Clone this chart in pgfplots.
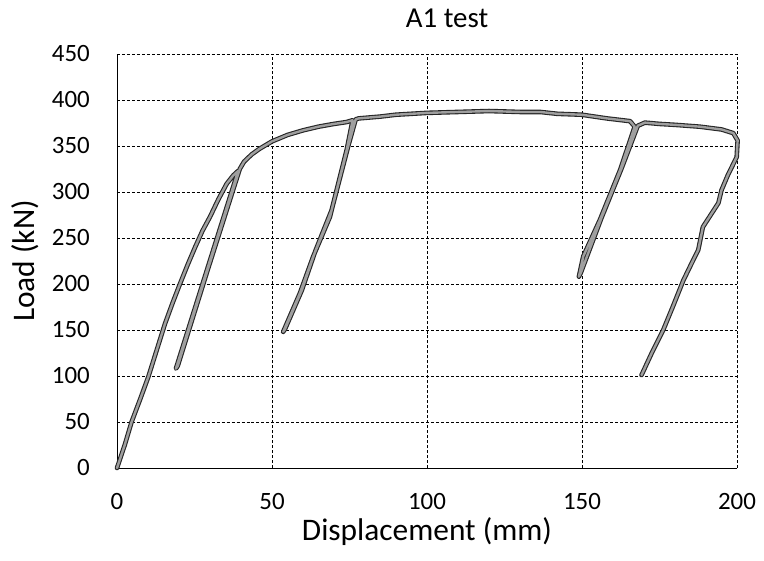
\documentclass[border=0pt]{standalone}
\usepackage{fontspec}
\setmainfont{Carlito}
\usepackage{pgfplots}
\pgfplotsset{compat=1.18}
\usepackage{pgfplotstable}

% load-displacement trace, A1 test
\pgfplotstableread{
x y
0 0
2.5 25
4.7 50
7.5 75
10.1 99
12.8 128
15.5 157
18 180
20.3 200
22.8 221
25.2 240
27.6 258
30 273
32.7 292
35.4 309
37.5 318
39.1 323
29 215
19 108
19.6 111
29.5 218
39.6 325
41 333
43.5 341
46 347
50 355
55 362
60 367
65 371
70 374
74 376
76 378
74.1 346
68.7 273
63.3 230
59 190
53.6 148
54.2 151
59.6 193
64 236
69.2 280
74.6 350
77 379
78 380
85 382
90 384
100 386
110 387
120 388
130 387
136.5 387
142 385
149.9 384
158 380
165.5 377
167 371
162.3 324
155.8 270
150.4 230
149 208
149.6 212
156.3 272
162.8 326
168 372
170.3 375.4
175 374
180 373
188 371
195 368
198.8 364
200.2 356
199.9 338
197 318
195 302
194 288
191.5 275
189 262
187.5 237
185 220
182.7 204
179.5 177
176.2 150
172.5 125
169.2 101
}\loadtable

\begin{document}
\begin{tikzpicture}
\begin{axis}[
    scale only axis,
    width=620bp, height=414bp,
    xmin=0, xmax=200, ymin=0, ymax=450,
    xtick={0,50,...,200},
    ytick={0,50,...,450},
    axis lines=left,
    axis line style={-, black, line width=0.8pt},
    major tick length=0pt,
    grid=major,
    major grid style={black, line width=0.6pt, dash pattern=on 3pt off 2pt},
    clip=false,
    /pgf/number format/assume math mode=true,
    ticklabel style={font=\fontsize{25}{28}\selectfont, inner sep=0pt},
    xticklabel style={anchor=north, yshift=-25bp},
    yticklabel style={anchor=east, xshift=-27bp},
    title={A1 test},
    title style={at={(rel axis cs:0.5,1)}, anchor=center, yshift=30bp, xshift=20bp,
                 font=\fontsize{29}{33}\selectfont},
    xlabel={Displacement (mm)},
    ylabel={Load (kN)},
    xlabel style={at={(rel axis cs:0.5,0)}, anchor=center, yshift=-64bp,
                  font=\fontsize{31.5}{35}\selectfont},
    ylabel style={at={(rel axis cs:0,0.5)}, anchor=center, yshift=92bp,
                  font=\fontsize{31.5}{35}\selectfont},
  ]
  \coordinate (o) at (rel axis cs:0,0);
  \addplot[black!85, line width=4.6bp, line join=round, line cap=round] table {\loadtable};
  \addplot[gray!75, line width=2.4bp, line join=round, line cap=round] table {\loadtable};
\end{axis}
\pgfresetboundingbox
\useasboundingbox ([shift={(-117bp,-93bp)}]o) rectangle ([shift={(647bp,468bp)}]o);
\end{tikzpicture}
\end{document}
